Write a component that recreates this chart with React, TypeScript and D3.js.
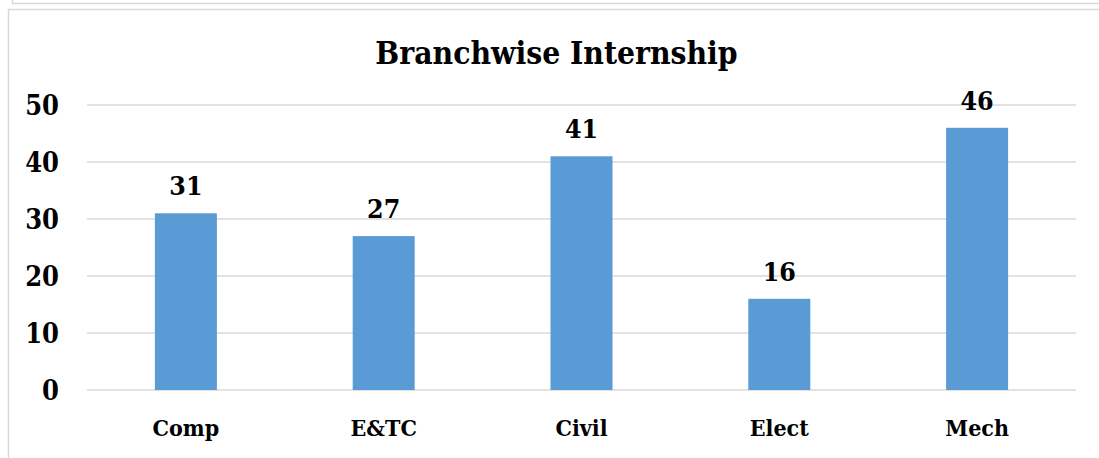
import React from "react";
import * as d3 from "d3";

const categories = ["Comp", "E&TC", "Civil", "Elect", "Mech"];
const values = [31, 27, 41, 16, 46];
const yTicks = [0, 10, 20, 30, 40, 50];
const title = "Branchwise Internship";

const W = 1099;
const H = 458;
const FONT = "'DejaVu Serif Condensed', 'DejaVu Serif', serif";
const fontStyle = { fontStretch: "condensed" } as React.CSSProperties;

export default function App() {
  const x = d3.scaleBand<string>().domain(categories).range([87, 1076]);
  const y = d3.scaleLinear().domain([0, 50]).range([390, 105]);
  const barW = 62;

  return (
    <svg
      width={W}
      height={H}
      style={{ position: "absolute", left: 0, top: 0, background: "#fff" }}
      xmlns="http://www.w3.org/2000/svg"
    >
      <path d={`M12.5,0 V3.5 H${W}`} fill="none" stroke="#d9d9d9" strokeWidth={1.5} />
      <path d={`M8.5,${H} V9.5 H${W}`} fill="none" stroke="#d9d9d9" strokeWidth={1.5} />

      <text
        x={556.5}
        y={64}
        textAnchor="middle"
        fontFamily={FONT}
        style={fontStyle}
        fontWeight="bold"
        fontSize={31.5}
        fill="#000"
      >
        {title}
      </text>

      {yTicks.map((t) => (
        <g key={t}>
          <line x1={87} x2={1076} y1={y(t)} y2={y(t)} stroke="#d9d9d9" strokeWidth={1.3} />
          <text
            x={59}
            y={y(t) + 9.5}
            textAnchor="end"
            fontFamily={FONT}
            style={fontStyle}
            fontWeight="bold"
            fontSize={27}
            fill="#000"
          >
            {t}
          </text>
        </g>
      ))}

      {categories.map((c, i) => {
        const cx = (x(c) as number) + x.bandwidth() / 2;
        const v = values[i];
        return (
          <g key={c}>
            <rect x={cx - barW / 2} y={y(v)} width={barW} height={y(0) - y(v)} fill="#5B9BD5" />
            <text
              x={cx}
              y={y(v) - 18}
              textAnchor="middle"
              fontFamily={FONT}
              style={fontStyle}
              fontWeight="bold"
              fontSize={26.5}
              fill="#000"
            >
              {v}
            </text>
            <text
              x={cx}
              y={436}
              textAnchor="middle"
              fontFamily={FONT}
              style={fontStyle}
              fontWeight="bold"
              fontSize={23}
              fill="#000"
            >
              {c}
            </text>
          </g>
        );
      })}
    </svg>
  );
}
